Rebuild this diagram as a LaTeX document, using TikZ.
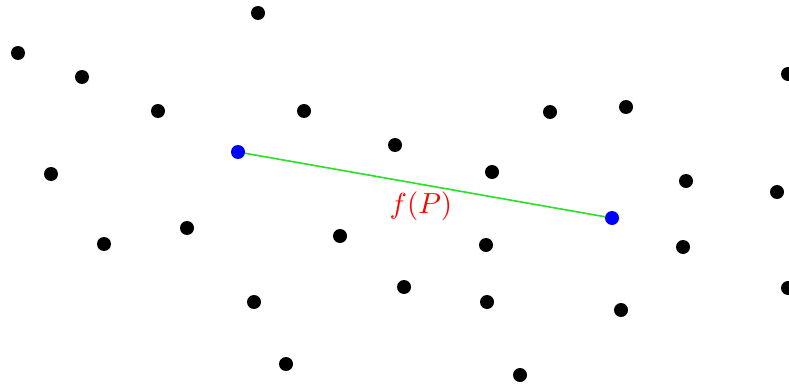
\documentclass[tikz,border=0pt]{standalone}
\usepackage{graphicx}
\begin{document}
\begin{tikzpicture}[x=1pt,y=-1pt,
  pt/.style={circle,fill=black,inner sep=0pt,minimum size=14pt},
  bpt/.style={circle,fill=blue,inner sep=0pt,minimum size=14pt},
  seg/.style={draw={rgb,255:red,40;green,225;blue,40},line width=1.6pt}]
\useasboundingbox (0,0) rectangle (789,385);
\foreach \x/\y [count=\i] in {258/13,18/53,82/77,158/111,304/111,550/112,626/107,788/74,395/145,492/172,51/174,686/181,777/192,104/244,187/228,340/236,486/245,683/247,254/302,404/287,487/302,621/310,788/288,286/364,520/375}
  \node[pt] (p\i) at (\x,\y) {};
\node[bpt] (a) at (238,152) {};
\node[bpt] (b) at (612,218) {};
\draw[seg] (a) -- (b);
\node[text=red,inner sep=0pt] (lab) at (421,206) {\scalebox{2.9}{$f(P)$}};
\end{tikzpicture}
\end{document}
